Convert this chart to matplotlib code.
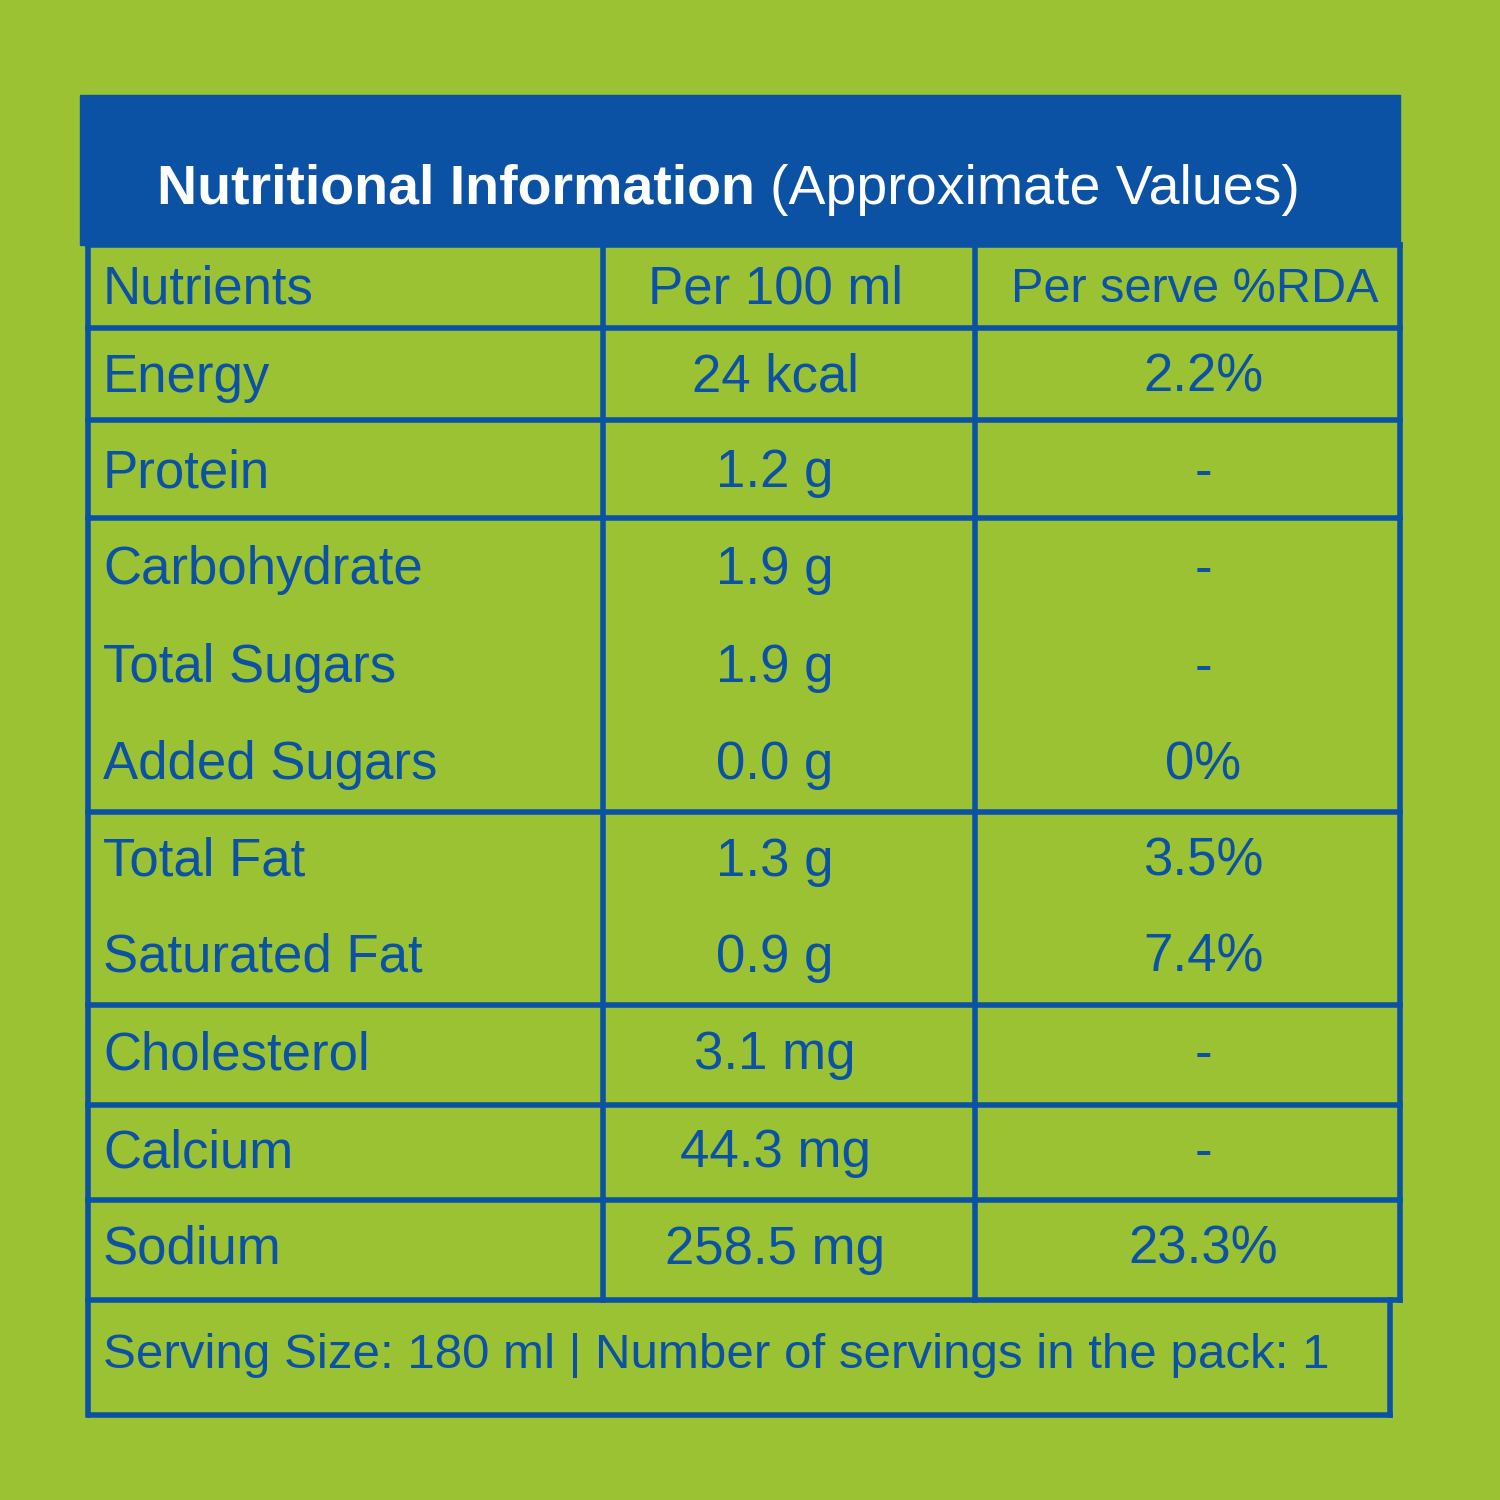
import matplotlib.pyplot as plt
from matplotlib.patches import Rectangle

green = '#9bc232'
blue = '#0b52a5'

headers = ['Nutrients', 'Per 100 ml', 'Per serve %RDA']
nutrients = ['Energy', 'Protein', 'Carbohydrate', 'Total Sugars', 'Added Sugars',
             'Total Fat', 'Saturated Fat', 'Cholesterol', 'Calcium', 'Sodium']
per_100ml = ['24 kcal', '1.2 g', '1.9 g', '1.9 g', '0.0 g',
             '1.3 g', '0.9 g', '3.1 mg', '44.3 mg', '258.5 mg']
rda = ['2.2%', '-', '-', '-', '0%', '3.5%', '7.4%', '-', '-', '23.3%']
footer = 'Serving Size: 180 ml | Number of servings in the pack: 1'

fam = ['Liberation Sans', 'DejaVu Sans']
fs = 38

fig = plt.figure(figsize=(15, 15), dpi=100)
fig.patch.set_facecolor(green)
ax = fig.add_axes([0, 0, 1, 1])
ax.set_xlim(0, 1500)
ax.set_ylim(1500, 0)
ax.axis('off')

# header band
ax.add_patch(Rectangle((80, 95), 1320, 150, color=blue, zorder=1))
ax.text(755, 190, 'Nutritional Information', ha='right', va='center', color='white',
        fontsize=40, fontweight='bold', family=fam)
ax.text(770, 190, '(Approximate Values)', ha='left', va='center', color='white',
        fontsize=40, family=fam)

# grid
lw = 4
x0, x1, x2, x3 = 88, 603, 975, 1400
row_y = [245, 328, 420, 518, 812, 1005, 1105, 1200, 1300]
for y in row_y:
    ax.plot([x0, x3], [y, y], color=blue, lw=lw)
ax.plot([x0, x0], [245, 1415], color=blue, lw=lw)
ax.plot([x3, x3], [245, 1300], color=blue, lw=lw)
ax.plot([1390, 1390], [1300, 1415], color=blue, lw=lw)
ax.plot([90, 1390], [1415, 1415], color=blue, lw=lw)
for x in (x1, x2):
    ax.plot([x, x], [245, 1300], color=blue, lw=lw)

tx, c2, c3 = 103, 775, 1203
hy = 290
ax.text(tx, hy, headers[0], ha='left', va='center', color=blue, fontsize=fs, family=fam)
ax.text(c2, hy, headers[1], ha='center', va='center', color=blue, fontsize=fs, family=fam)
ax.text(c3 - 8, hy, headers[2], ha='center', va='center', color=blue, fontsize=35, family=fam)

centers = [378, 473, 570, 668, 765, 862, 958, 1055, 1153, 1250]
for y, n, p, r in zip(centers, nutrients, per_100ml, rda):
    ax.text(tx, y, n, ha='left', va='center', color=blue, fontsize=fs, family=fam)
    ax.text(c2, y, p, ha='center', va='center', color=blue, fontsize=fs, family=fam)
    ax.text(c3, y, r, ha='center', va='center', color=blue, fontsize=fs, family=fam)

ax.text(tx, 1355, footer, ha='left', va='center', color=blue, fontsize=35.5, family=fam)

fig.savefig('out.png', dpi=100, facecolor=green)
